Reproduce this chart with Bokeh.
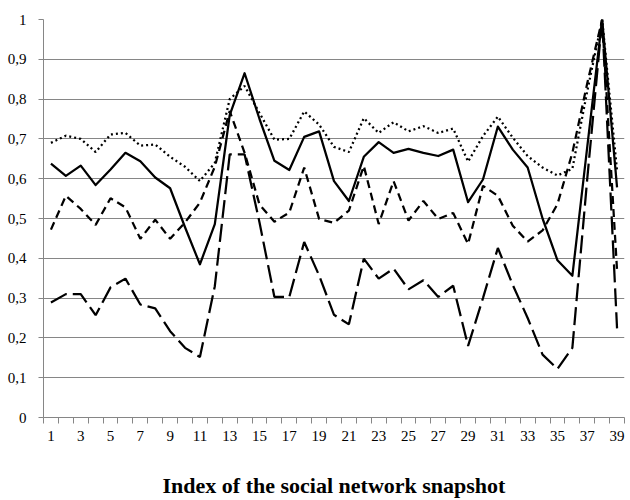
from bokeh.plotting import figure
from bokeh.models import Range1d, FixedTicker, CustomJSTickFormatter
from bokeh.embed import file_html
from bokeh.resources import INLINE

snapshots = list(range(1, 40))

series_solid = [0.638, 0.607, 0.633, 0.584, 0.623, 0.665, 0.644, 0.603, 0.576, 0.478,
                0.385, 0.486, 0.760, 0.865, 0.750, 0.645, 0.622, 0.705, 0.719, 0.594,
                0.544, 0.655, 0.692, 0.665, 0.675, 0.665, 0.657, 0.673, 0.541, 0.598,
                0.731, 0.673, 0.628, 0.500, 0.395, 0.356, 0.680, 1.000, 0.578]

series_dotted = [0.690, 0.708, 0.700, 0.667, 0.711, 0.715, 0.683, 0.686, 0.655, 0.630,
                 0.594, 0.640, 0.800, 0.833, 0.765, 0.698, 0.700, 0.769, 0.736, 0.680,
                 0.667, 0.752, 0.715, 0.742, 0.719, 0.732, 0.715, 0.726, 0.643, 0.707,
                 0.756, 0.703, 0.657, 0.628, 0.608, 0.625, 0.820, 1.000, 0.620]

series_dash = [0.472, 0.557, 0.524, 0.484, 0.551, 0.528, 0.449, 0.497, 0.449, 0.490,
               0.540, 0.630, 0.770, 0.665, 0.535, 0.492, 0.515, 0.628, 0.499, 0.489,
               0.520, 0.632, 0.486, 0.594, 0.495, 0.544, 0.499, 0.514, 0.436, 0.582,
               0.557, 0.482, 0.442, 0.470, 0.536, 0.665, 0.840, 1.000, 0.370]

series_longdash = [0.289, 0.310, 0.310, 0.257, 0.327, 0.349, 0.284, 0.274, 0.217, 0.175,
                   0.152, 0.330, 0.661, 0.661, 0.490, 0.303, 0.303, 0.441, 0.357, 0.258,
                   0.234, 0.399, 0.349, 0.374, 0.322, 0.345, 0.303, 0.331, 0.180, 0.300,
                   0.426, 0.333, 0.250, 0.158, 0.122, 0.175, 0.600, 1.000, 0.224]

x_label_ticks = list(range(1, 40, 2))
x_boundaries = [i + 0.5 for i in range(0, 40)]
y_ticks = [0.0, 0.1, 0.2, 0.3, 0.4, 0.5, 0.6, 0.7, 0.8, 0.9, 1.0]

x_title = "Index of the social network snapshot"

GRID = "#868686"
FONT = "Liberation Serif"

p = figure(width=628, height=500, output_backend="svg", toolbar_location=None,
           x_range=Range1d(0.5, 39.5), y_range=Range1d(0, 1),
           min_border_left=43, min_border_right=4, min_border_top=19, min_border_bottom=80)
p.outline_line_color = None
p.background_fill_color = "white"
p.border_fill_color = "white"

lw = 2.25
p.line(snapshots, series_dotted, line_color="black", line_width=lw, line_dash="2 3")
p.line(snapshots, series_dash, line_color="black", line_width=lw, line_dash="8 5")
p.line(snapshots, series_longdash, line_color="black", line_width=lw, line_dash="18 6")
p.line(snapshots, series_solid, line_color="black", line_width=lw, line_join="round")

# x axis
p.xaxis.ticker = FixedTicker(ticks=x_label_ticks, minor_ticks=x_boundaries)
p.xaxis.major_tick_line_color = None
p.xaxis.minor_tick_line_color = GRID
p.xaxis.minor_tick_in = 0
p.xaxis.minor_tick_out = 6
p.xaxis.axis_line_color = GRID
p.xaxis.major_label_text_font = FONT
p.xaxis.major_label_text_font_size = "15px"
p.xaxis.major_label_text_color = "black"
p.xaxis.major_label_standoff = 7
p.xaxis.axis_label = x_title
p.xaxis.axis_label_text_font = FONT
p.xaxis.axis_label_text_font_style = "bold"
p.xaxis.axis_label_text_font_size = "22px"
p.xaxis.axis_label_text_color = "black"
p.xaxis.axis_label_standoff = 29
p.xgrid.visible = False

# y axis
p.yaxis.ticker = FixedTicker(ticks=y_ticks)
p.yaxis.formatter = CustomJSTickFormatter(
    code="return (Math.round(tick * 10) / 10).toString().replace('.', ',');")
p.yaxis.major_tick_line_color = GRID
p.yaxis.major_tick_in = 0
p.yaxis.major_tick_out = 5
p.yaxis.minor_tick_line_color = None
p.yaxis.axis_line_color = GRID
p.yaxis.major_label_text_font = FONT
p.yaxis.major_label_text_font_size = "15px"
p.yaxis.major_label_text_color = "black"
p.yaxis.major_label_standoff = 12
p.ygrid.ticker = FixedTicker(ticks=y_ticks)
p.ygrid.grid_line_color = GRID
p.ygrid.grid_line_width = 1

open("out.html", "w").write(file_html(p, INLINE))
